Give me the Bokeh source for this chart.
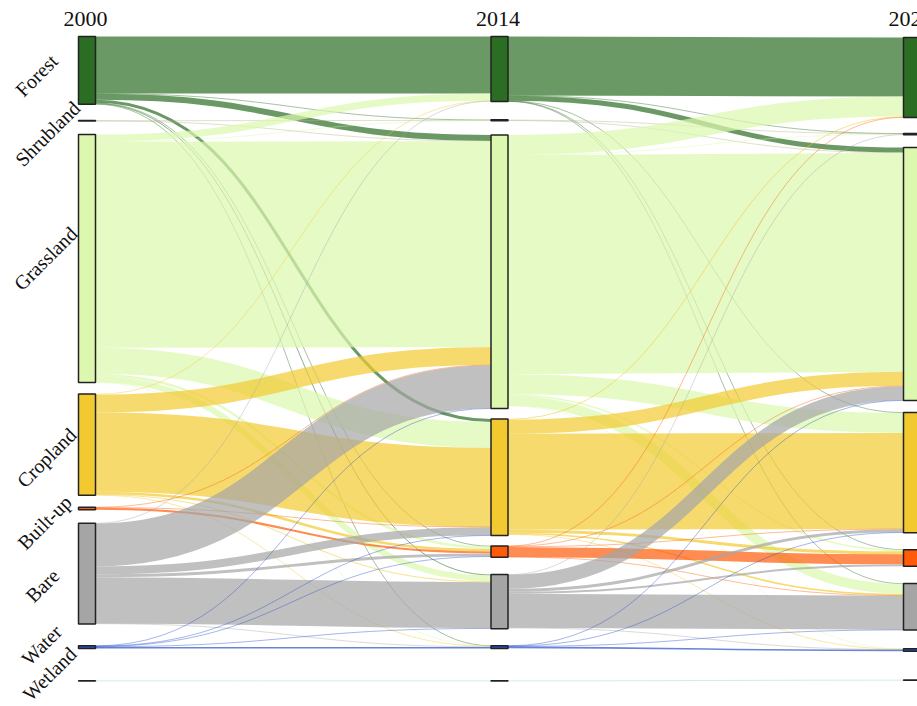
import numpy as np
from bokeh.plotting import figure
from bokeh.models import Range1d, ColumnDataSource
from bokeh.embed import file_html
from bokeh.resources import INLINE
from bokeh.core.properties import value

# ---------------- data (share of study area, %) ----------------
years = ["2000", "2014", "2024"]
classes = ["Forest", "Shrubland", "Grassland", "Cropland", "Built-up", "Bare", "Water", "Wetland"]
class_colors = ["#2c6d24", "#b3b38a", "#dcf8ae", "#f2ca30", "#ff5b08", "#a5a5a5", "#2850c8", "#8fd0c8"]

# rows = class in earlier year, columns = class in later year
# order: Forest, Shrubland, Grassland, Cropland, Built-up, Bare, Water, Wetland
flow_forest_00_14    = [10.90, 0.06, 1.15, 0.57, 0.08, 0.15, 0.04, 0.00]
flow_shrubland_00_14 = [0.00, 0.08, 0.02, 0.00, 0.00, 0.00, 0.00, 0.00]
flow_grassland_00_14 = [1.34, 0.04, 39.39, 4.97, 0.48, 1.15, 0.06, 0.00]
flow_cropland_00_14  = [0.10, 0.00, 3.44, 15.11, 0.48, 0.15, 0.08, 0.00]
flow_builtup_00_14   = [0.00, 0.00, 0.04, 0.06, 0.38, 0.00, 0.00, 0.00]
flow_bare_00_14      = [0.04, 0.00, 8.22, 1.53, 0.57, 8.80, 0.10, 0.00]
flow_water_00_14     = [0.00, 0.00, 0.06, 0.06, 0.04, 0.08, 0.29, 0.00]
flow_wetland_00_14   = [0.00, 0.00, 0.00, 0.00, 0.00, 0.00, 0.00, 0.06]

flow_forest_14_24    = [11.28, 0.04, 0.96, 0.06, 0.04, 0.06, 0.00, 0.00]
flow_shrubland_14_24 = [0.00, 0.10, 0.06, 0.00, 0.00, 0.00, 0.00, 0.00]
flow_grassland_14_24 = [3.82, 0.06, 41.87, 3.82, 0.29, 1.91, 0.06, 0.00]
flow_cropland_14_24  = [0.15, 0.00, 2.68, 18.36, 0.57, 0.29, 0.08, 0.00]
flow_builtup_14_24   = [0.04, 0.00, 0.06, 0.08, 1.91, 0.06, 0.00, 0.00]
flow_bare_14_24      = [0.00, 0.04, 2.68, 0.57, 0.38, 6.50, 0.06, 0.00]
flow_water_14_24     = [0.00, 0.00, 0.06, 0.06, 0.00, 0.06, 0.31, 0.00]
flow_wetland_14_24   = [0.00, 0.00, 0.00, 0.00, 0.00, 0.00, 0.00, 0.06]

periods = [
    np.array([flow_forest_00_14, flow_shrubland_00_14, flow_grassland_00_14, flow_cropland_00_14,
              flow_builtup_00_14, flow_bare_00_14, flow_water_00_14, flow_wetland_00_14]),
    np.array([flow_forest_14_24, flow_shrubland_14_24, flow_grassland_14_24, flow_cropland_14_24,
              flow_builtup_14_24, flow_bare_14_24, flow_water_14_24, flow_wetland_14_24]),
]

# ---------------- layout (pixels) ----------------
SCALE = 5.23           # px per % of area
NODE_W = 17
COL_X = [78, 490.5, 903]
COL_TOP = [36, 36, 37]
GAPS = [
    [16.3, 13.5, 11.5, 11.8, 13.5, 21.8, 32.3],
    [18.3, 14.1, 10.4, 10.4, 17.4, 17.0, 32.1],
    [16.0, 12.8, 12.1, 17.0, 17.3, 18.6, 28.7],
]
LABEL_X = [36, 47, 45, 46, 44, 42, 41, 49]
LABEL_DY = [5, 13, 0, 13, 14, 12, -2, -7]
MIN_LINK_W = 0.6

n = len(classes)
node_vals = [
    periods[0].sum(axis=1),
    np.maximum(periods[0].sum(axis=0), periods[1].sum(axis=1)),
    periods[1].sum(axis=0),
]

node_y0 = []
for c in range(3):
    y = COL_TOP[c]
    tops = []
    for i in range(n):
        tops.append(y)
        y += node_vals[c][i] * SCALE
        if i < n - 1:
            y += GAPS[c][i]
    node_y0.append(tops)

W, H = 917, 706
p = figure(width=W, height=H, x_range=Range1d(0, W), y_range=Range1d(H, 0),
           output_backend="svg", toolbar_location=None, min_border=0)
p.axis.visible = False
p.grid.visible = False
p.outline_line_color = None
p.background_fill_color = "white"
p.border_fill_color = "white"

# links
lk = dict(x0=[], y0=[], x1=[], y1=[], cx0=[], cy0=[], cx1=[], cy1=[], w=[], color=[])
for k in range(2):
    M = periods[k]
    tgt_pos = {}
    for j in range(n):
        off = 0.0
        for i in range(n):
            v = M[i, j]
            if v > 0:
                tgt_pos[(i, j)] = node_y0[k + 1][j] + off + v * SCALE / 2
                off += v * SCALE
    for i in range(n):
        off = 0.0
        for j in range(n):
            v = M[i, j]
            if v <= 0:
                continue
            w = v * SCALE
            ys = node_y0[k][i] + off + w / 2
            off += w
            yt = tgt_pos[(i, j)]
            xs = COL_X[k] + NODE_W
            xt = COL_X[k + 1]
            xm = (xs + xt) / 2
            lk["x0"].append(xs); lk["y0"].append(ys)
            lk["x1"].append(xt); lk["y1"].append(yt)
            lk["cx0"].append(xm); lk["cy0"].append(ys)
            lk["cx1"].append(xm); lk["cy1"].append(yt)
            lk["w"].append(max(MIN_LINK_W, w))
            lk["color"].append(class_colors[i])

p.bezier(x0="x0", y0="y0", x1="x1", y1="y1", cx0="cx0", cy0="cy0", cx1="cx1", cy1="cy1",
         line_width="w", line_color="color", line_alpha=0.7, source=ColumnDataSource(lk))

# nodes
nd = dict(left=[], right=[], top=[], bottom=[], color=[])
for c in range(3):
    for i in range(n):
        nd["left"].append(COL_X[c])
        nd["right"].append(COL_X[c] + NODE_W)
        nd["top"].append(node_y0[c][i])
        nd["bottom"].append(node_y0[c][i] + node_vals[c][i] * SCALE)
        nd["color"].append(class_colors[i])
p.quad(left="left", right="right", top="top", bottom="bottom", fill_color="color",
       line_color="#222222", line_width=1.5, source=ColumnDataSource(nd))

# year labels
p.text(x=[cx + NODE_W / 2 - 1.5 for cx in COL_X], y=[18] * 3, text=years,
       text_font=value("Liberation Serif"), text_font_size="22px", text_color="#111111",
       text_align="center", text_baseline="middle")

# class labels
lab_y = [node_y0[0][i] + node_vals[0][i] * SCALE / 2 + LABEL_DY[i] for i in range(n)]
p.text(x=LABEL_X, y=lab_y, text=classes, angle=np.pi / 4,
       text_font=value("Liberation Serif"), text_font_size="20px", text_color="#111111",
       text_align="center", text_baseline="middle")

open("out.html", "w").write(file_html(p, INLINE))
